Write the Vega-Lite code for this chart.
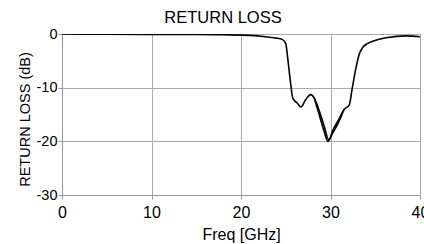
{
  "$schema": "https://vega.github.io/schema/vega-lite/v6.json",
  "autosize": "none",
  "width": 358,
  "height": 161,
  "padding": {"left": 62, "top": 34, "right": 4, "bottom": 49},
  "background": "white",
  "title": {"text": "RETURN LOSS", "font": "Liberation Sans", "fontSize": 16.5, "fontWeight": "normal", "color": "black", "offset": 0, "dx": -18},
  "config": {"view": {"stroke": "#aaaaaa"}},
  "data": {"values": [
    {"f": 0, "db": 0, "s": "a"},
    {"f": 5, "db": -0.05, "s": "a"},
    {"f": 10, "db": -0.1, "s": "a"},
    {"f": 15, "db": -0.1, "s": "a"},
    {"f": 18, "db": -0.15, "s": "a"},
    {"f": 21, "db": -0.25, "s": "a"},
    {"f": 22.4, "db": -0.45, "s": "a"},
    {"f": 23.9, "db": -0.75, "s": "a"},
    {"f": 24.6, "db": -1.0, "s": "a"},
    {"f": 25.0, "db": -1.8, "s": "a"},
    {"f": 25.2, "db": -4.2, "s": "a"},
    {"f": 25.5, "db": -8.6, "s": "a"},
    {"f": 25.8, "db": -12.0, "s": "a"},
    {"f": 26.3, "db": -12.9, "s": "a"},
    {"f": 26.7, "db": -13.6, "s": "a"},
    {"f": 27.2, "db": -12.3, "s": "a"},
    {"f": 27.8, "db": -11.3, "s": "a"},
    {"f": 28.2, "db": -12.0, "s": "a"},
    {"f": 28.7, "db": -14.1, "s": "a"},
    {"f": 29.3, "db": -17.2, "s": "a"},
    {"f": 29.8, "db": -19.7, "s": "a"},
    {"f": 30.3, "db": -17.8, "s": "a"},
    {"f": 30.9, "db": -16.0, "s": "a"},
    {"f": 31.5, "db": -14.1, "s": "a"},
    {"f": 32.1, "db": -13.2, "s": "a"},
    {"f": 32.4, "db": -10.4, "s": "a"},
    {"f": 32.8, "db": -6.7, "s": "a"},
    {"f": 33.2, "db": -3.8, "s": "a"},
    {"f": 33.6, "db": -2.5, "s": "a"},
    {"f": 34.1, "db": -1.8, "s": "a"},
    {"f": 34.8, "db": -1.3, "s": "a"},
    {"f": 36.2, "db": -0.7, "s": "a"},
    {"f": 38.5, "db": -0.35, "s": "a"},
    {"f": 40, "db": -0.5, "s": "a"},
    {"f": 28.2, "db": -12.0, "s": "b"},
    {"f": 28.7, "db": -14.8, "s": "b"},
    {"f": 29.3, "db": -18.2, "s": "b"},
    {"f": 29.7, "db": -20.0, "s": "b"},
    {"f": 30.2, "db": -18.6, "s": "b"},
    {"f": 30.8, "db": -16.8, "s": "b"},
    {"f": 31.5, "db": -14.1, "s": "b"}
  ]},
  "mark": {"type": "line", "color": "black", "strokeWidth": 1.6, "interpolate": "monotone", "clip": true},
  "encoding": {
    "x": {"field": "f", "type": "quantitative",
      "scale": {"domain": [0, 40], "nice": false, "zero": false},
      "axis": {"title": "Freq [GHz]", "values": [0, 10, 20, 30, 40], "labelFlush": false, "labelOverlap": false, "grid": true, "gridColor": "#aaaaaa", "gridOpacity": 1,
        "domainColor": "#999999", "tickColor": "#999999", "tickSize": 4,
        "labelFont": "Liberation Sans", "labelFontSize": 16, "labelColor": "black", "labelPadding": 5,
        "titleFont": "Liberation Sans", "titleFontSize": 16, "titleFontWeight": "normal", "titleColor": "black", "titlePadding": 6}},
    "y": {"field": "db", "type": "quantitative",
      "scale": {"domain": [-30, 0], "nice": false},
      "axis": {"title": "RETURN LOSS (dB)", "values": [-30, -20, -10, 0], "labelExpr": "'' + datum.value", "labelFlush": false, "labelOverlap": false, "grid": true, "gridColor": "#aaaaaa", "gridOpacity": 1,
        "domainColor": "#999999", "tickColor": "#999999", "tickSize": 4,
        "labelFont": "Liberation Sans", "labelFontSize": 14.5, "labelColor": "black", "labelPadding": 1,
        "titleFont": "Liberation Sans", "titleFontSize": 14.5, "titleFontWeight": "normal", "titleColor": "black", "titlePadding": 4, "titleY": 85}},
    "detail": {"field": "s"}
  }
}
